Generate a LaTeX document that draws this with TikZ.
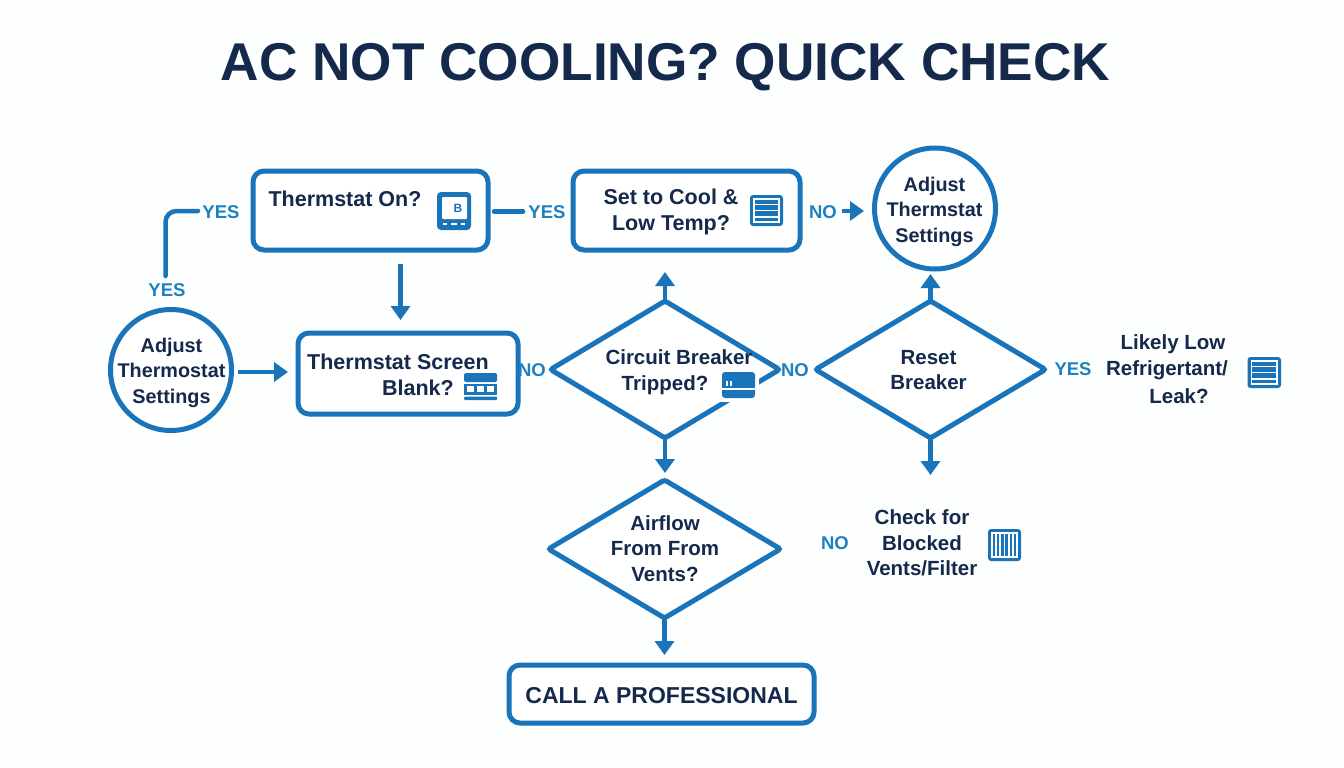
\documentclass[tikz,border=0pt]{standalone}
\usepackage{fontspec}
\setmainfont{Liberation Sans}
\usetikzlibrary{arrows.meta,shapes.geometric,calc}
\definecolor{flowblue}{HTML}{1A74B9}
\definecolor{labelblue}{HTML}{1F80C0}
\definecolor{navy}{HTML}{14294B}
\definecolor{paper}{HTML}{FDFEFE}
\tikzset{
  boxnode/.style={draw=flowblue,line width=5pt,rounded corners=11pt,fill=white,inner sep=0pt,outer sep=0pt},
  roundnode/.style={circle,draw=flowblue,line width=5pt,fill=white,inner sep=0pt,outer sep=0pt,minimum size=121pt},
  choice/.style={diamond,draw=flowblue,line width=5pt,fill=white,inner sep=0pt,outer sep=0pt,rounded corners=2.5pt},
  body/.style={text=navy,font=\bfseries\fontsize{20.5}{25.5}\selectfont,align=center,inner sep=0pt},
  roundtext/.style={text=navy,font=\bfseries\fontsize{19.8}{25.5}\selectfont,align=center,inner sep=0pt},
  boxtext/.style={text=navy,font=\bfseries\fontsize{21.5}{26}\selectfont,align=center,inner sep=0pt},
  tag/.style={text=labelblue,font=\bfseries\fontsize{18.5}{20}\selectfont,inner sep=0pt},
  flow/.style={draw=flowblue,line width=4.5pt,-{Triangle[width=19pt,length=14pt]}},
  plain/.style={draw=flowblue,line width=4.5pt,line cap=round},
  iconbg/.style={fill=flowblue,rounded corners=3pt},
  iconline/.style={draw=white,line width=1.6pt}
}
\newcommand{\docicon}[4]{% x0 y0 x1 y1
  \fill[iconbg] (#1,#2) rectangle (#3,#4);
  \draw[iconline] (#1+4,#2+4) rectangle (#3-4,#4-4);
  \foreach \f in {0.3,0.5,0.7}{\draw[iconline] (#1+4,{#2+\f*(#4-#2)}) -- (#3-4,{#2+\f*(#4-#2)});}
}
\begin{document}
\begin{tikzpicture}[x=1pt,y=-1pt]
\useasboundingbox (0,0) rectangle (1344,768);
\fill[paper] (0,0) rectangle (1344,768);

\node[text=navy,font=\bfseries\fontsize{53.2}{60}\selectfont,inner sep=0pt] (title) at (665.5,67) {AC NOT COOLING? QUICK CHECK};

% shapes
\node[boxnode,minimum width=235pt,minimum height=79pt] (b1) at (370.5,210.5) {};
\node[boxnode,minimum width=220pt,minimum height=81pt] (b2) at (408,373.5) {};
\node[boxnode,minimum width=227pt,minimum height=79pt] (b3) at (686.5,210.5) {};
\node[boxnode,minimum width=305pt,minimum height=58pt] (b4) at (661.5,694) {};
\node[roundnode] (c1) at (171,370) {};
\node[roundnode] (c2) at (935,208.5) {};
\node[choice,minimum width=229pt,minimum height=137pt] (d1) at (665,369.5) {};
\node[choice,minimum width=230pt,minimum height=137pt] (d2) at (930.5,369.5) {};
\node[choice,minimum width=232pt,minimum height=138pt] (d3) at (664.5,549) {};

% text
\node[boxtext] (t1) at (345,199) {Thermstat On?};
\node[boxtext,align=right,anchor=east] (t2) at (489,374.5) {Thermstat Screen\\Blank?\hspace*{35pt}};
\node[boxtext] (t3) at (671,212) {Set to Cool \&\\Low Temp?};
\node[text=navy,font=\bfseries\fontsize{23}{26}\selectfont,inner sep=0pt] (t11) at (661.5,695.5) {CALL A PROFESSIONAL};
\node[roundtext] (tc1) at (171.5,372.5) {Adjust\\Thermostat\\Settings};
\node[roundtext] (tc2) at (934.5,211.5) {Adjust\\Thermstat\\Settings};
\node[body] (t5) at (928.5,370) {Reset\\Breaker};
\node[body] (t6) at (665,548.5) {Airflow\\From From\\Vents?};
\node[body] (t7) at (1173,344) {Likely Low};
\node[body] (t8) at (1167,370) {Refrigertant/};
\node[body] (t9) at (1179,396) {Leak?};
\node[body] (t10) at (922,543) {Check for\\Blocked\\Vents/Filter};

% labels
\node[tag] (y1) at (221,212) {YES};
\node[tag] (y2) at (167,290) {YES};
\node[tag] (y3) at (547,212) {YES};
\node[tag] (n1) at (823,212) {NO};
\node[tag] (n2) at (532,370) {NO};
\node[tag] (n3) at (795,370) {NO};
\node[tag] (y4) at (1073,369) {YES};
\node[tag] (n4) at (835,543) {NO};

% connectors
\coordinate (p1) at (165.5,276);
\coordinate (p2) at (198,211);
\draw[plain,rounded corners=11pt] (p1) |- (p2);
\coordinate (p3) at (494,211.5);
\coordinate (p4) at (523,211.5);
\draw[plain] (p3) -- (p4);
\coordinate (a1) at (400.5,264);
\coordinate (a2) at (400.5,320);
\draw[flow] (a1) -- (a2);
\coordinate (a3) at (238,372);
\coordinate (a4) at (288,372);
\draw[flow] (a3) -- (a4);
\coordinate (a5) at (842,211);
\coordinate (a6) at (864,211);
\draw[flow] (a5) -- (a6);
\coordinate (a7) at (665,272);
\draw[flow] (d1.north) -- (a7);
\coordinate (a8) at (930.5,274);
\draw[flow] (d2.north) -- (a8);
\coordinate (a9) at (665,473);
\draw[flow] (d1.south) -- (a9);
\coordinate (a10) at (930.5,475);
\draw[flow] (d2.south) -- (a10);
\coordinate (a11) at (664.5,655);
\draw[flow] (d3.south) -- (a11);

% breaker icon (interrupts the diamond outline) and its text
\fill[white] (717,367) rectangle (759,402);
\node[body] (t4) at (679,357) {Circuit Breaker};
\node[body] (t4b) at (665,385) {Tripped?};
\fill[iconbg] (722,372) rectangle (755,398);
\draw[iconline] (722,389) -- (755,389);
\fill[white] (726,381) rectangle +(2,5);
\fill[white] (730,381) rectangle +(2,5);

% thermostat icon
\fill[flowblue,rounded corners=4pt] (437,192) rectangle (471,230);
\fill[white,rounded corners=1pt] (442,197) rectangle (467,219);
\node[text=flowblue,font=\bfseries\fontsize{12}{12}\selectfont,inner sep=0pt] (ib) at (458,208) {B};
\fill[white] (443,222.5) rectangle +(4,2.5);
\fill[white] (451,222.5) rectangle +(6,2.5);
\fill[white] (461,222.5) rectangle +(4,2.5);

% screen icon
\fill[flowblue,rounded corners=1.5pt] (464,373) rectangle (497,382);
\fill[flowblue] (464,384) rectangle (497,395);
\fill[white] (467,386) rectangle +(7,6);
\fill[white] (477,386) rectangle +(7,6);
\fill[white] (487,386) rectangle +(7,6);
\fill[flowblue,rounded corners=1pt] (464,396.5) rectangle (497,400);

% document icons
\docicon{750}{195}{783}{226}
\docicon{1247.5}{357}{1281}{388}

% vent icon
\fill[iconbg] (988,529) rectangle (1021,561);
\draw[iconline] (992,533) rectangle (1017,557);
\foreach \vx in {996,1000,1004.5,1009,1013}{\draw[iconline] (\vx,533) -- (\vx,557);}
\end{tikzpicture}
\end{document}
